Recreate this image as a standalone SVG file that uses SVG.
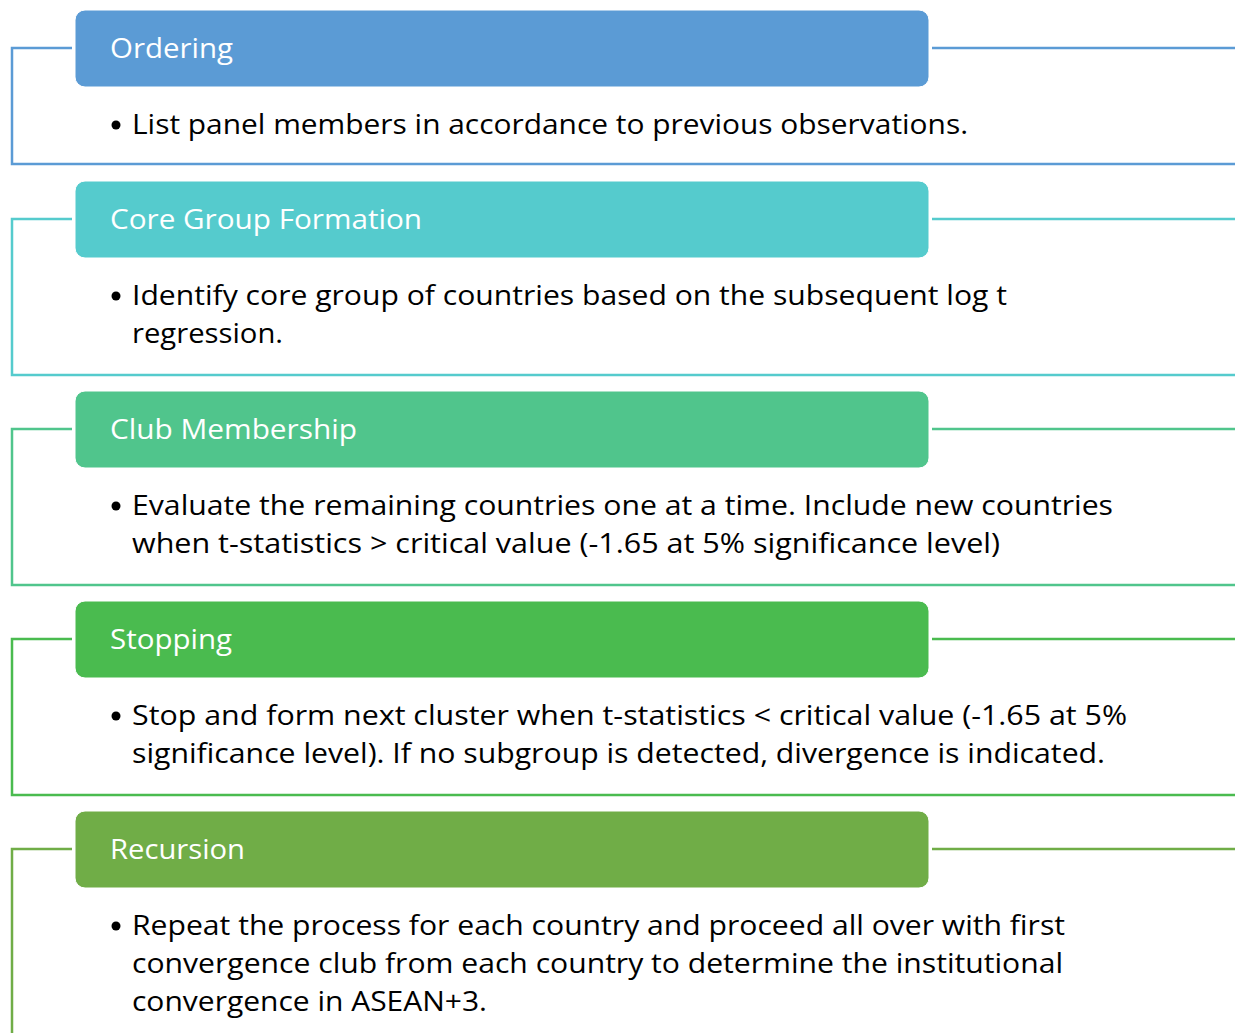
<svg xmlns="http://www.w3.org/2000/svg" width="1235" height="1033" viewBox="0 0 1235 1033">
  <style>
    .hdr { stroke: #ffffff; stroke-width: 1; }
    .frame { fill: none; stroke-width: 2.5; }
    .title { font-family: "Open Sans", "Liberation Sans", sans-serif; font-size: 28px; fill: #ffffff; }
    .body { font-family: "Open Sans", "Liberation Sans", sans-serif; font-size: 28px; fill: #000000; }
    .dot { fill: #000000; }
  </style>

  <!-- connector lines framing each step -->
  <g id="connectors">
    <path class="frame" stroke="#5B9BD5" d="M72,48 H12 V164 H1235 M932,48 H1235"/>
    <path class="frame" stroke="#55CBCD" d="M72,219 H12 V375 H1235 M932,219 H1235"/>
    <path class="frame" stroke="#50C58C" d="M72,429 H12 V585 H1235 M932,429 H1235"/>
    <path class="frame" stroke="#4ABB4F" d="M72,639 H12 V795 H1235 M932,639 H1235"/>
    <path class="frame" stroke="#70AD47" d="M72,849 H12 V1040 M932,849 H1235"/>
  </g>

  <g id="ordering">
    <rect class="hdr" x="75" y="10" width="854" height="77" rx="10" fill="#5B9BD5"/>
    <text class="title" x="110" y="58" textLength="123" lengthAdjust="spacingAndGlyphs">Ordering</text>
    <circle class="dot" cx="116" cy="125" r="4.5"/>
    <text class="body" x="132" y="134" textLength="836" lengthAdjust="spacingAndGlyphs">List panel members in accordance to previous observations.</text>
  </g>

  <g id="core-group-formation">
    <rect class="hdr" x="75" y="181" width="854" height="77" rx="10" fill="#55CBCD"/>
    <text class="title" x="110" y="229" textLength="312" lengthAdjust="spacingAndGlyphs">Core Group Formation</text>
    <circle class="dot" cx="116" cy="296" r="4.5"/>
    <text class="body" x="132" y="305" textLength="875" lengthAdjust="spacingAndGlyphs">Identify core group of countries based on the subsequent log t</text>
    <text class="body" x="132" y="343" textLength="151" lengthAdjust="spacingAndGlyphs">regression.</text>
  </g>

  <g id="club-membership">
    <rect class="hdr" x="75" y="391" width="854" height="77" rx="10" fill="#50C58C"/>
    <text class="title" x="110" y="439" textLength="247" lengthAdjust="spacingAndGlyphs">Club Membership</text>
    <circle class="dot" cx="116" cy="506" r="4.5"/>
    <text class="body" x="132" y="515" textLength="981" lengthAdjust="spacingAndGlyphs">Evaluate the remaining countries one at a time. Include new countries</text>
    <text class="body" x="132" y="553" textLength="868" lengthAdjust="spacingAndGlyphs">when t-statistics &gt; critical value (-1.65 at 5% significance level)</text>
  </g>

  <g id="stopping">
    <rect class="hdr" x="75" y="601" width="854" height="77" rx="10" fill="#4ABB4F"/>
    <text class="title" x="110" y="649" textLength="122" lengthAdjust="spacingAndGlyphs">Stopping</text>
    <circle class="dot" cx="116" cy="716" r="4.5"/>
    <text class="body" x="132" y="725" textLength="995" lengthAdjust="spacingAndGlyphs">Stop and form next cluster when t-statistics &lt; critical value (-1.65 at 5%</text>
    <text class="body" x="132" y="763" textLength="973" lengthAdjust="spacingAndGlyphs">significance level). If no subgroup is detected, divergence is indicated.</text>
  </g>

  <g id="recursion">
    <rect class="hdr" x="75" y="811" width="854" height="77" rx="10" fill="#70AD47"/>
    <text class="title" x="110" y="859" textLength="135" lengthAdjust="spacingAndGlyphs">Recursion</text>
    <circle class="dot" cx="116" cy="926" r="4.5"/>
    <text class="body" x="132" y="935" textLength="933" lengthAdjust="spacingAndGlyphs">Repeat the process for each country and proceed all over with first</text>
    <text class="body" x="132" y="973" textLength="931" lengthAdjust="spacingAndGlyphs">convergence club from each country to determine the institutional</text>
    <text class="body" x="132" y="1011" textLength="355" lengthAdjust="spacingAndGlyphs">convergence in ASEAN+3.</text>
  </g>
</svg>
